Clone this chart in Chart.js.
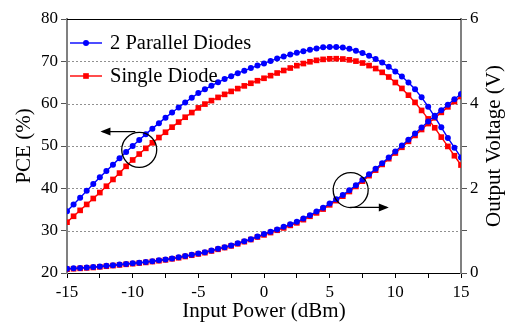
<!DOCTYPE html>
<html>
<head>
<meta charset="utf-8">
<script src="https://cdn.jsdelivr.net/npm/chart.js@4.4.1/dist/chart.umd.min.js"></script>
<style>body{margin:0;background:#fff}</style>
</head>
<body>
<canvas id="myChart" width="507" height="326"></canvas>
<script>
// input power in dBm, one point every 0.5 dBm
const inputPower = [-15, -14.5, -14, -13.5, -13, -12.5, -12, -11.5, -11, -10.5, -10,
  -9.5, -9, -8.5, -8, -7.5, -7, -6.5, -6, -5.5, -5,
  -4.5, -4, -3.5, -3, -2.5, -2, -1.5, -1, -0.5, 0,
  0.5, 1, 1.5, 2, 2.5, 3, 3.5, 4, 4.5, 5,
  5.5, 6, 6.5, 7, 7.5, 8, 8.5, 9, 9.5, 10,
  10.5, 11, 11.5, 12, 12.5, 13, 13.5, 14, 14.5, 15];

// PCE (%)
const pceParallel = [34.6, 36.2, 37.8, 39.4, 41.0, 42.6, 44.1, 45.6, 47.1, 48.6, 50.0,
  51.4, 52.8, 54.1, 55.4, 56.7, 57.9, 59.1, 60.3, 61.4, 62.5,
  63.4, 64.25, 65.05, 65.8, 66.5, 67.2, 67.8, 68.4, 69.0, 69.5,
  70.1, 70.65, 71.15, 71.6, 72.0, 72.4, 72.75, 73.05, 73.3, 73.4,
  73.4, 73.25, 72.95, 72.5, 71.95, 71.3, 70.55, 69.7, 68.7, 67.6,
  66.4, 65.0, 63.4, 61.5, 59.3, 56.9, 54.4, 51.9, 49.6, 47.3];
const pceSingle = [32.0, 33.4, 34.8, 36.2, 37.6, 39.0, 40.5, 42.1, 43.6, 45.2, 46.7,
  48.1, 49.45, 50.75, 52.0, 53.25, 54.45, 55.65, 56.8, 57.9, 59.0,
  59.9, 60.72, 61.48, 62.2, 62.9, 63.56, 64.2, 64.82, 65.42, 66.0,
  66.62, 67.24, 67.84, 68.42, 68.98, 69.48, 69.9, 70.23, 70.46, 70.6,
  70.62, 70.55, 70.35, 70.05, 69.6, 69.0, 68.3, 67.4, 66.3, 65.0,
  63.6, 62.0, 60.3, 58.4, 56.4, 54.3, 52.1, 49.9, 47.7, 45.5];

// output voltage (V)
const voltParallel = [0.10, 0.11, 0.12, 0.13, 0.14, 0.155, 0.17, 0.185, 0.20, 0.215, 0.23,
  0.245, 0.26, 0.28, 0.30, 0.32, 0.345, 0.37, 0.40, 0.43, 0.46,
  0.49, 0.53, 0.57, 0.61, 0.65, 0.70, 0.75, 0.80, 0.86, 0.92,
  0.975, 1.03, 1.09, 1.15, 1.21, 1.285, 1.365, 1.45, 1.54, 1.64,
  1.74, 1.845, 1.955, 2.075, 2.2, 2.33, 2.46, 2.595, 2.73, 2.87,
  3.01, 3.15, 3.295, 3.435, 3.58, 3.715, 3.845, 3.975, 4.105, 4.23];
const voltSingle = [0.09, 0.10, 0.11, 0.12, 0.13, 0.145, 0.16, 0.175, 0.19, 0.205, 0.22,
  0.235, 0.25, 0.27, 0.29, 0.31, 0.335, 0.36, 0.39, 0.42, 0.45,
  0.48, 0.52, 0.56, 0.60, 0.64, 0.69, 0.74, 0.79, 0.85, 0.90,
  0.955, 1.01, 1.065, 1.125, 1.185, 1.26, 1.34, 1.42, 1.51, 1.61,
  1.71, 1.815, 1.925, 2.045, 2.17, 2.30, 2.43, 2.565, 2.70, 2.835,
  2.97, 3.11, 3.25, 3.39, 3.53, 3.665, 3.795, 3.925, 4.05, 4.17];

const seriesNames = ["2 Parallel Diodes", "Single Diode"];
const gridValues = [30, 40, 50, 60, 70];
const serif = "'Liberation Serif', 'Times New Roman', serif";

function pairs(ys) {
  return ys.map((y, i) => ({ x: inputPower[i], y: y }));
}

function makeSet(label, ys, color, style, axis) {
  return {
    label: label,
    data: pairs(ys),
    yAxisID: axis,
    borderColor: color,
    backgroundColor: color,
    borderWidth: 1.4,
    pointStyle: style,
    pointRadius: style == "rect" ? 4 : 3,
    pointBorderWidth: 0,
    tension: 0
  };
}

// legend inside the plot, top left
const legendBox = {
  id: "legendBox",
  afterDraw(chart) {
    const ctx = chart.ctx;
    const a = chart.chartArea;
    const rows = [
      { text: seriesNames[0], color: "#0000ff", style: "circle", r: 3 },
      { text: seriesNames[1], color: "#ff0000", style: "rect", r: 4 }
    ];
    ctx.save();
    rows.forEach((row, i) => {
      const y = a.top + 24 + i * 33;
      ctx.strokeStyle = row.color;
      ctx.fillStyle = row.color;
      ctx.lineWidth = 1.4;
      ctx.beginPath();
      ctx.moveTo(a.left + 3, y);
      ctx.lineTo(a.left + 35, y);
      ctx.stroke();
      Chart.helpers.drawPoint(ctx, { pointStyle: row.style, radius: row.r, borderWidth: 0 }, a.left + 19, y);
      ctx.fillStyle = "#000";
      ctx.font = "20.5px " + serif;
      ctx.textBaseline = "middle";
      ctx.fillText(row.text, a.left + 43, y + 1);
    });
    ctx.restore();
  }
};

// dotted grid, top edge of the frame, right title, circles and arrows
const marks = {
  id: "marks",
  afterDraw(chart) {
    const ctx = chart.ctx;
    const a = chart.chartArea;
    const sx = chart.scales.x, yl = chart.scales.y, yr = chart.scales.y2;
    ctx.save();

    ctx.globalCompositeOperation = "destination-over";
    ctx.strokeStyle = "#909090";
    ctx.lineWidth = 1;
    ctx.setLineDash([2, 2]);
    gridValues.forEach((v) => {
      const py = Math.round(yl.getPixelForValue(v)) + 0.5;
      ctx.beginPath();
      ctx.moveTo(a.left + 1, py);
      ctx.lineTo(a.right - 1, py);
      ctx.stroke();
    });
    ctx.setLineDash([]);
    ctx.globalCompositeOperation = "source-over";

    ctx.strokeStyle = "#000";
    ctx.lineWidth = 1;
    ctx.beginPath();
    ctx.moveTo(a.left, a.top + 0.5);
    ctx.lineTo(a.right, a.top + 0.5);
    ctx.stroke();

    // right axis title reads bottom to top
    ctx.save();
    ctx.translate(chart.width - 13, (a.top + a.bottom) / 2);
    ctx.rotate(-Math.PI / 2);
    ctx.fillStyle = "#000";
    ctx.font = "21px " + serif;
    ctx.textAlign = "center";
    ctx.textBaseline = "middle";
    ctx.fillText("Output Voltage (V)", 0, 0);
    ctx.restore();

    function circle(px, py) {
      ctx.beginPath();
      ctx.arc(px, py, 17.5, 0, Math.PI * 2);
      ctx.lineWidth = 1.3;
      ctx.stroke();
    }
    function arrow(x1, x2, py) {
      ctx.lineWidth = 1.4;
      ctx.beginPath();
      ctx.moveTo(x1, py);
      ctx.lineTo(x2, py);
      ctx.stroke();
      const d = x2 > x1 ? 1 : -1;
      ctx.beginPath();
      ctx.moveTo(x2 + d * 2, py);
      ctx.lineTo(x2 - d * 8, py - 4);
      ctx.lineTo(x2 - d * 8, py + 4);
      ctx.closePath();
      ctx.fill();
    }
    ctx.fillStyle = "#000";
    circle(sx.getPixelForValue(-9.5), yl.getPixelForValue(49.1));
    arrow(sx.getPixelForValue(-9.8), sx.getPixelForValue(-12.3), yl.getPixelForValue(53.4));
    circle(sx.getPixelForValue(6.6), yr.getPixelForValue(1.96));
    arrow(sx.getPixelForValue(6.55), sx.getPixelForValue(9.35), yr.getPixelForValue(1.55));
    ctx.restore();
  }
};

const ctx = document.getElementById("myChart").getContext("2d");
new Chart(ctx, {
  type: "line",
  data: {
    datasets: [
      makeSet(seriesNames[0], voltParallel, "#0000ff", "circle", "y2"),
      makeSet(seriesNames[0], pceParallel, "#0000ff", "circle", "y"),
      makeSet(seriesNames[1], voltSingle, "#ff0000", "rect", "y2"),
      makeSet(seriesNames[1], pceSingle, "#ff0000", "rect", "y")
    ]
  },
  options: {
    responsive: false,
    animation: false,
    layout: { padding: { top: 19, left: 0, right: 0, bottom: 0 } },
    plugins: { legend: { display: false }, tooltip: { enabled: false } },
    scales: {
      x: {
        type: "linear",
        min: -15,
        max: 15,
        afterFit: (s) => { s.height = 53; },
        ticks: {
          stepSize: 2.5,
          autoSkip: false,
          maxRotation: 0,
          padding: 4,
          color: "#000",
          font: { family: serif, size: 17 },
          callback: (v) => (v % 5 === 0 ? v : "")
        },
        grid: { drawOnChartArea: false, tickLength: 5, tickColor: "#000" },
        border: { color: "#000", width: 1 },
        title: {
          display: true,
          text: "Input Power (dBm)",
          color: "#000",
          font: { family: serif, size: 21 },
          padding: { top: 0, bottom: 2 }
        }
      },
      y: {
        position: "left",
        min: 20,
        max: 80,
        afterFit: (s) => { s.width = 67; },
        ticks: {
          stepSize: 5,
          padding: 3,
          color: "#000",
          font: { family: serif, size: 17 },
          callback: (v) => (v % 10 === 0 ? v : "")
        },
        grid: { drawOnChartArea: false, tickLength: 6, tickColor: "#555" },
        border: { color: "#808080", width: 2 },
        title: {
          display: true,
          text: "PCE (%)",
          color: "#000",
          font: { family: serif, size: 21 },
          padding: { top: 12, bottom: 0 }
        }
      },
      y2: {
        position: "right",
        min: 0,
        max: 6,
        afterFit: (s) => { s.width = 46; },
        ticks: {
          stepSize: 1,
          padding: 3,
          color: "#000",
          font: { family: serif, size: 17 },
          callback: (v) => (v % 2 === 0 ? v : "")
        },
        grid: { drawOnChartArea: false, tickLength: 6, tickColor: "#555" },
        border: { color: "#808080", width: 2 }
      }
    }
  },
  plugins: [legendBox, marks]
});
</script>
</body>
</html>
